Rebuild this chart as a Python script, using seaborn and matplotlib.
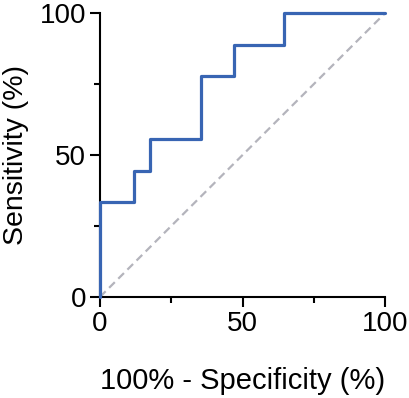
import numpy as np
import pandas as pd
import seaborn as sns
import matplotlib.pyplot as plt
from matplotlib.ticker import MultipleLocator

# ROC 曲线的点 (100% - 特异度, 灵敏度)
fpr = [0, 0, 11.76, 11.76, 17.65, 17.65, 35.29, 35.29, 47.06, 47.06, 64.71, 64.71, 100]
tpr = [0, 33.33, 33.33, 44.44, 44.44, 55.56, 55.56, 77.78, 77.78, 88.89, 88.89, 100, 100]
ref_x = [0, 100]
ref_y = [0, 100]

sns.set_style('ticks')
plt.rcParams['font.family'] = ['Liberation Sans', 'DejaVu Sans']
plt.rcParams['text.color'] = 'black'
plt.rcParams['axes.labelcolor'] = 'black'
plt.rcParams['xtick.color'] = 'black'
plt.rcParams['ytick.color'] = 'black'

fig = plt.figure(figsize=(4.09, 3.98), dpi=100)
ax = fig.add_axes([0.2445, 0.254, 0.697, 0.713])

roc = pd.DataFrame({'fpr': fpr, 'tpr': tpr})
diag = pd.DataFrame({'x': ref_x, 'y': ref_y})

sns.lineplot(data=diag, x='x', y='y', ax=ax, color='#b4b4bc', linestyle=(0, (3.6, 2.2)),
             linewidth=1.6, sort=False)
sns.lineplot(data=roc, x='fpr', y='tpr', ax=ax, color='#3865b3', linewidth=2.3,
             sort=False, estimator=None, zorder=5)
for ln in ax.lines:
    ln.set_clip_on(False)

ax.set_xlim(0, 100)
ax.set_ylim(0, 100)
ax.xaxis.set_major_locator(MultipleLocator(50))
ax.yaxis.set_major_locator(MultipleLocator(50))
ax.xaxis.set_minor_locator(MultipleLocator(25))
ax.yaxis.set_minor_locator(MultipleLocator(25))
ax.tick_params(which='major', length=7, width=1.5, labelsize=20, colors='black', pad=3)
ax.tick_params(which='minor', length=4.5, width=1.5, colors='black')

for s in ['top', 'right']:
    ax.spines[s].set_visible(False)
for s in ['left', 'bottom']:
    ax.spines[s].set_linewidth(1.5)
    ax.spines[s].set_color('black')

ax.set_xlabel('100% - Specificity (%)', fontsize=21, labelpad=22)
ax.set_ylabel('Sensitivity (%)', fontsize=20.5, labelpad=8)

fig.savefig('out.png', dpi=100)
